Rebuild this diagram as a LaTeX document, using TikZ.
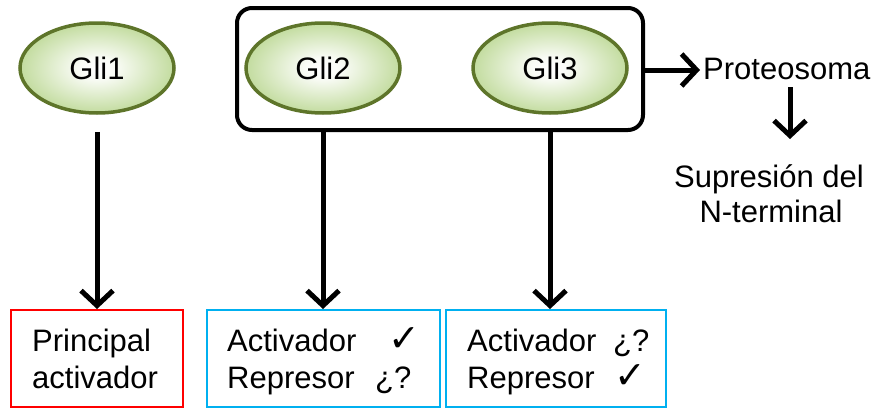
\documentclass[tikz,border=0pt]{standalone}
\usepackage{fontspec}
\setmainfont{Liberation Sans}
\newfontfamily\symfont{DejaVu Sans}
\usetikzlibrary{shapes.geometric,arrows.meta}
\definecolor{gliedge}{RGB}{94,117,42}
\definecolor{glifill}{RGB}{140,188,72}
\definecolor{boxred}{RGB}{255,0,0}
\definecolor{boxblue}{RGB}{0,176,240}
\pgfdeclareradialshading{glishade}{\pgfpoint{0bp}{0bp}}{color(0bp)=(white); color(6bp)=(white!95!glifill); color(44bp)=(glifill); color(100bp)=(glifill)}
\begin{document}
\begin{tikzpicture}[x=1pt,y=-1pt,
  gli/.style={ellipse,draw=gliedge,line width=3.5pt,shading=glishade,minimum width=154pt,minimum height=90pt,inner sep=0pt,font=\fontsize{31}{36}\selectfont},
  arr/.style={line width=5pt,-{Straight Barb[length=15pt,width=32pt]}},
  txt/.style={font=\fontsize{31}{37}\selectfont,inner sep=0pt,anchor=base west},
  ctxt/.style={font=\fontsize{31}{37}\selectfont,inner sep=0pt,anchor=base},
  chk/.style={font=\symfont\fontsize{38}{37}\selectfont,inner sep=0pt,anchor=base west},
  outbox/.style={draw,line width=2pt,inner sep=0pt}]
\useasboundingbox (0,0) rectangle (882,407);

% group box
\node[draw,line width=4pt,rounded corners=15pt,minimum width=406pt,minimum height=122pt,inner sep=0pt] (grp) at (440,69) {};

% ellipses
\node[gli] (g1) at (97,68) {Gli1};
\node[gli] (g2) at (323,68) {Gli2};
\node[gli] (g3) at (550,68) {Gli3};

% bottom boxes
\node[outbox,draw=boxred,minimum width=172pt,minimum height=97pt] (b1) at (97,358.5) {};
\node[outbox,draw=boxblue,minimum width=233pt,minimum height=97pt] (b2) at (323.5,358.5) {};
\node[outbox,draw=boxblue,minimum width=220pt,minimum height=97pt] (b3) at (556,358.5) {};

% texts in boxes
\node[txt] (t11) at (32,351) {Principal};
\node[txt] (t12) at (32,388) {activador};
\node[txt] (t21) at (227,351) {Activador};
\node[chk] (c21) at (388,351) {✓};
\node[txt] (t22) at (227,388) {Represor};
\node[txt] (q22) at (375,388) {¿?};
\node[txt] (t31) at (467,351) {Activador};
\node[txt] (q31) at (613,351) {¿?};
\node[txt] (t32) at (467,388) {Represor};
\node[chk] (c32) at (614,388) {✓};

% proteosoma
\node[txt] (prot) at (703,79) {Proteosoma};
\node[ctxt] (sup1) at (769,187) {Supresión del};
\node[ctxt] (sup2) at (771,222) {N-terminal};

% arrow anchors
\coordinate (rstart) at (645,70);
\coordinate (rend) at (700,70);
\coordinate (dstart) at (790,87);
\coordinate (dend) at (790,139);

% arrows
\draw[arr] ([yshift=-17pt]g1.south) -- (g1 |- b1.north);
\draw[arr] (g2 |- grp.south) -- (g2 |- b2.north);
\draw[arr] (g3 |- grp.south) -- (g3 |- b3.north);
\draw[arr] (rstart) -- (rend);
\draw[arr] (dstart) -- (dend);
\end{tikzpicture}
\end{document}
